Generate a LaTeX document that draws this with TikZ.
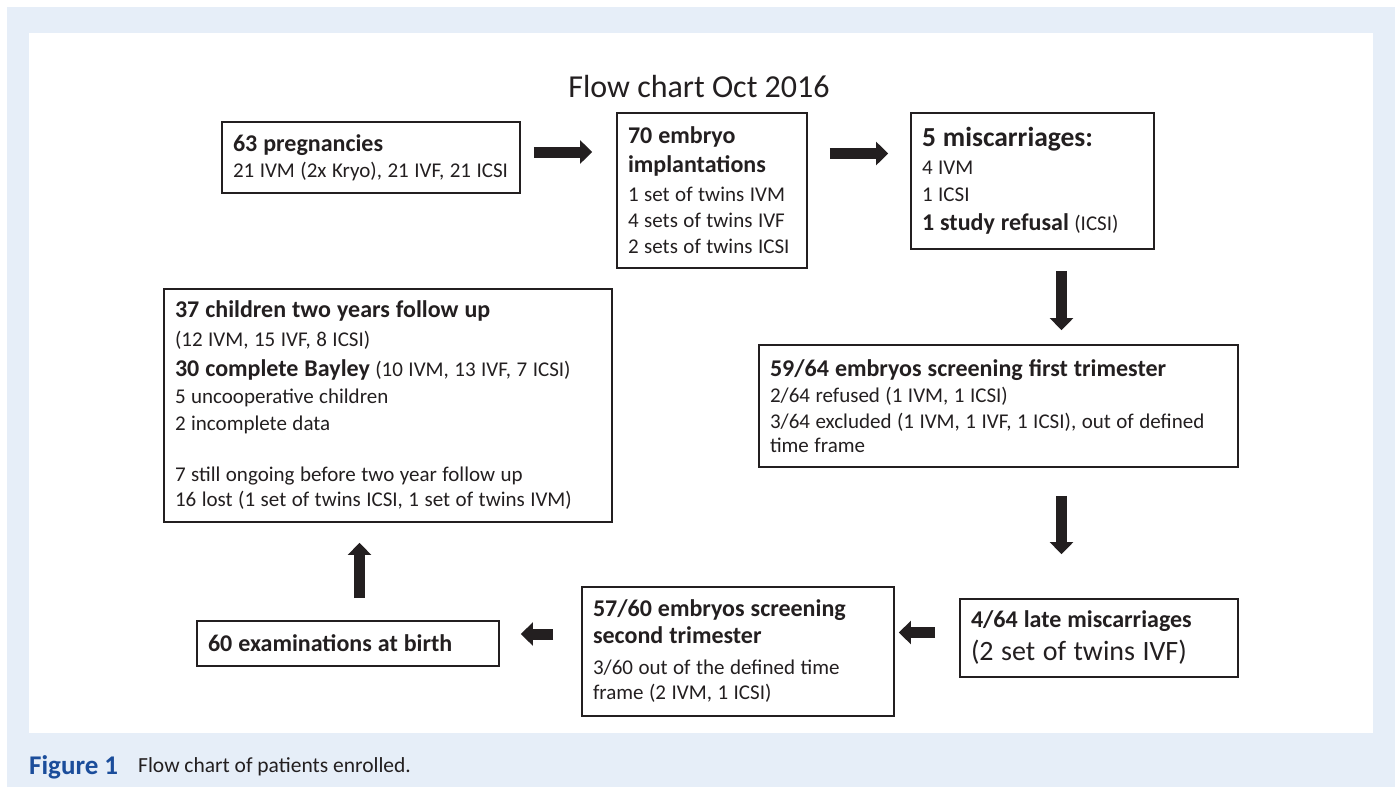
\documentclass[tikz,border=0pt]{standalone}
\usepackage{fontspec}
\setmainfont{Carlito}
\usetikzlibrary{arrows.meta,calc}
\definecolor{bgblue}{HTML}{E6EEF8}
\definecolor{ink}{HTML}{231F20}
\definecolor{capblue}{HTML}{1B4D9B}
\newcommand\hd{\fontsize{24}{29}\selectfont\bfseries\spaceskip=6pt plus 1pt minus 1pt\relax}
\newcommand\hdbig{\fontsize{27.5}{31}\selectfont\bfseries\spaceskip=7pt plus 1pt minus 1pt\relax}
\newcommand\nmb[1]{\fontsize{21}{#1}\selectfont\mdseries\spaceskip=5.5pt plus 1pt minus 1pt\relax}
\newcommand\nm{\nmb{26}}
\newcommand\nmbig{\fontsize{28}{33}\selectfont\mdseries\spaceskip=7.5pt plus 1pt minus 1pt\relax}
\begin{document}
\begin{tikzpicture}[x=1pt,y=-1pt,
  box/.style={draw=ink, line width=1.8pt, inner xsep=11pt, inner ysep=2pt,
    text=ink, align=left, anchor=center, font=\nm},
  barrow/.style={draw=ink, line width=11pt, -{Triangle[width=23pt,length=12pt]}},
]
\useasboundingbox (0,0) rectangle (1395,787);
\fill[white] (0,0) rectangle (1395,787);
\fill[bgblue] (7,7) rectangle (1395,787);
\fill[white] (29,33) rectangle (1373,733);

\node[text=ink, font=\fontsize{32}{38}\selectfont] (title) at (699,87) {Flow chart Oct 2016};

\node[box, minimum width=298pt, minimum height=71pt, text width=276pt] (b1) at (371,157.5)
 {{\hd 63 pregnancies\par}{\nm 21 IVM (2x Kryo), 21 IVF, 21 ICSI\par}};

\node[box, minimum width=190pt, minimum height=155pt, text width=168pt] (b2) at (712,190.5)
 {{\hd 70 embryo\par}{\hd implantations\par}{\nm\vspace{3pt}1 set of twins IVM\par}{\nm 4 sets of twins IVF\par}{\nm 2 sets of twins ICSI\par}};

\node[box, minimum width=243pt, minimum height=136pt, text width=221pt] (b3) at (1032.5,181)
 {{\hdbig 5 miscarriages:\par}{\nmb{28} 4 IVM\par}{\nmb{27} 1 ICSI\par}{\nmb{29}{\hd 1 study refusal} (ICSI)\par}};

\node[box, minimum width=479pt, minimum height=122pt, text width=457pt] (b4) at (998.5,406)
 {{\hd 59/64 embryos screening first trimester\par}{\nm 2/64 refused (1 IVM, 1 ICSI)\par}{\nm 3/64 excluded (1 IVM, 1 IVF, 1 ICSI), out of defined\par}{\nmb{24} time frame\par}};

\node[box, minimum width=278pt, minimum height=78pt, text width=256pt] (b5) at (1099,638)
 {{\hd 4/64 late miscarriages\par}{\nmbig (2 set of twins IVF)\par}};

\node[box, minimum width=312pt, minimum height=129pt, text width=290pt] (b6) at (738,651.5)
 {{\hd 57/60 embryos screening\par}{\hd\fontsize{24}{27}\selectfont second trimester\par}{\nmb{31} 3/60 out of the defined time\par}{\nmb{25} frame (2 IVM, 1 ICSI)\par}};

\node[box, minimum width=302pt, minimum height=45pt, text width=280pt] (b7) at (348,643.5)
 {{\hd 60 examinations at birth\par}};

\node[box, minimum width=448pt, minimum height=233pt, text width=426pt] (b8) at (388,405.5)
 {{\hd 37 children two years follow up\par}{\nmb{29} (12 IVM, 15 IVF, 8 ICSI)\par}{\nmb{30}{\hd 30 complete Bayley} (10 IVM, 13 IVF, 7 ICSI)\par}{\nmb{27} 5 uncooperative children\par}{\nmb{27} 2 incomplete data\par}{\nmb{51} 7 still ongoing before two year follow up\par}{\nmb{25} 16 lost (1 set of twins ICSI, 1 set of twins IVM)\par}};

\draw[barrow] ($(b1.east)+(13,-5.5)$) -- ($(b2.west)+(-24,-38.5)$);
\draw[barrow] ($(b2.east)+(22,-37)$) -- ($(b3.west)+(-22,-27.5)$);
\draw[barrow] ($(b3.south)+(29,21)$) -- ($(b4.north)+(63,-14)$);
\draw[barrow] ($(b4.south)+(63,28)$) -- ($(b5.north)+(-37.5,-44)$);
\draw[barrow] ($(b5.west)+(-24,-5.5)$) -- ($(b6.east)+(4,-19)$);
\draw[barrow] ($(b6.west)+(-28,-17.5)$) -- ($(b7.east)+(21,-9.5)$);
\draw[barrow] ($(b7.north)+(11.5,-22)$) -- ($(b8.south)+(-28.5,20)$);

\node[anchor=west, inner sep=0pt, text=capblue, font=\fontsize{27}{30}\selectfont\bfseries] (fig) at (29,767) {Figure 1};
\node[anchor=west, inner sep=0pt, text=ink, font=\fontsize{21.5}{26}\selectfont] (cap) at (138,767) {Flow chart of patients enrolled.};
\end{tikzpicture}
\end{document}
